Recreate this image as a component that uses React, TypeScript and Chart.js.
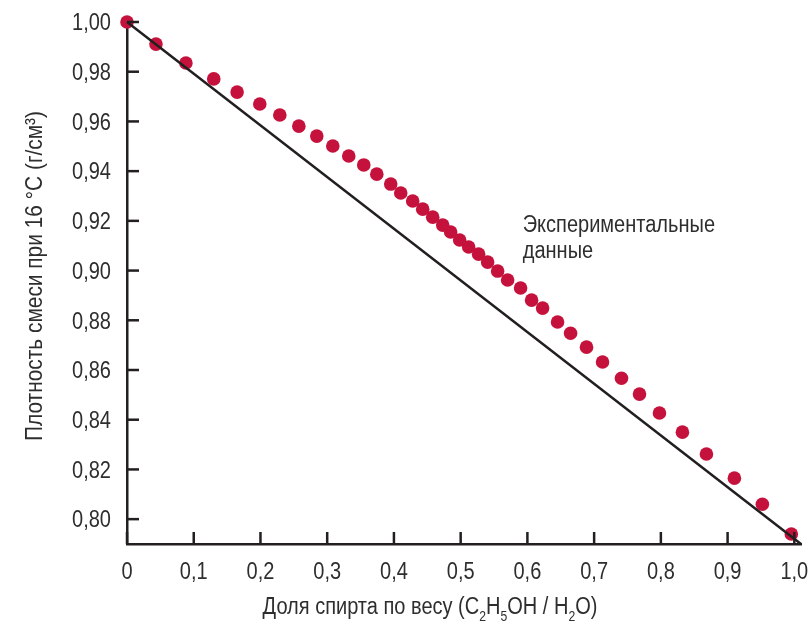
import { useEffect, useRef } from 'react';
import { Chart, registerables } from 'chart.js';

Chart.register(...registerables);

// Experimental data: weight fraction of alcohol vs density at 16 °C
const alcoholFraction = [
  0.0, 0.0434, 0.0883, 0.13, 0.165, 0.199, 0.229, 0.2575, 0.2844, 0.3084,
  0.3323, 0.3548, 0.3743, 0.3952, 0.4102, 0.4281, 0.4431, 0.4581, 0.4731, 0.485,
  0.4985, 0.512, 0.5269, 0.5404, 0.5554, 0.5704, 0.5898, 0.6063, 0.6228, 0.6452,
  0.6647, 0.6886, 0.7126, 0.741, 0.768, 0.7979, 0.8323, 0.8683, 0.9102, 0.9521, 0.9955,
];
const density = [
  1.0, 0.9911, 0.9835, 0.9771, 0.9718, 0.967, 0.9626, 0.9581, 0.9541, 0.9501,
  0.9461, 0.9425, 0.9388, 0.9348, 0.9312, 0.928, 0.9247, 0.9215, 0.9183, 0.9155,
  0.9123, 0.9095, 0.9066, 0.9034, 0.8998, 0.8962, 0.893, 0.8881, 0.8849, 0.8793,
  0.8748, 0.8692, 0.8632, 0.8567, 0.8503, 0.8427, 0.835, 0.8262, 0.8165, 0.806, 0.794,
];

// Ideal (linear) mixing line
const idealX = [0, 1.01];
const idealY = [1.0, 0.79];

const xTicks = [0, 0.1, 0.2, 0.3, 0.4, 0.5, 0.6, 0.7, 0.8, 0.9, 1.0];
const yTicks = [0.8, 0.82, 0.84, 0.86, 0.88, 0.9, 0.92, 0.94, 0.96, 0.98, 1.0];

const xTitle = 'Доля спирта по весу (C₂H₅OH / H₂O)';
const yTitle = 'Плотность смеси при 16 °С (г/см³)';
const annotationLines = ['Экспериментальные', 'данные'];
const annotationAt = { x: 0.593, y: 0.9157 };

const FONT = "'Liberation Sans', Arial, sans-serif";
const TEXT = '#2e2e2e';
const AXIS = '#231f20';
const DOT = '#c5123c';
const SX = 0.87; // horizontal condensation of the lettering

const SUBS: Record<string, string> = { '₀': '0', '₁': '1', '₂': '2', '₃': '3', '₄': '4', '₅': '5' };

function fmtX(v: number) {
  return v === 0 ? '0' : v.toFixed(1).replace('.', ',');
}
function fmtY(v: number) {
  return v.toFixed(2).replace('.', ',');
}

// draws text (with optional unicode subscripts) at baseline (0,0) of current transform
function drawRich(ctx: any, text: string, size: number, align: 'left' | 'center' | 'right') {
  const segs: { t: string; sub: boolean }[] = [];
  for (const ch of Array.from(text)) {
    const sub = SUBS[ch] !== undefined;
    const t = sub ? SUBS[ch] : ch;
    const last = segs[segs.length - 1];
    if (last && last.sub === sub) last.t += t;
    else segs.push({ t, sub });
  }
  const subSize = Math.round(size * 0.62);
  let total = 0;
  const widths = segs.map((s) => {
    ctx.font = `${s.sub ? subSize : size}px ${FONT}`;
    const w = ctx.measureText(s.t).width;
    total += w;
    return w;
  });
  let cx = align === 'center' ? -total / 2 : align === 'right' ? -total : 0;
  ctx.textAlign = 'left';
  ctx.textBaseline = 'alphabetic';
  segs.forEach((s, i) => {
    ctx.font = `${s.sub ? subSize : size}px ${FONT}`;
    ctx.fillText(s.t, cx, s.sub ? size * 0.3 : 0);
    cx += widths[i];
  });
}

function drawText(
  ctx: any,
  text: string,
  x: number,
  y: number,
  size: number,
  align: 'left' | 'center' | 'right',
  rotate = 0
) {
  ctx.save();
  ctx.translate(x, y);
  if (rotate) ctx.rotate(rotate);
  ctx.scale(SX, 1);
  drawRich(ctx, text, size, align);
  ctx.restore();
}

const inwardTicks = {
  id: 'inwardTicks',
  afterDatasetsDraw(chart: any) {
    const { ctx, chartArea } = chart;
    const x = chart.scales.x;
    const y = chart.scales.y;
    ctx.save();
    ctx.strokeStyle = AXIS;
    ctx.lineWidth = 2.5;
    y.ticks.forEach((t: any) => {
      const py = y.getPixelForValue(t.value);
      ctx.beginPath();
      ctx.moveTo(chartArea.left, py);
      ctx.lineTo(chartArea.left + 12, py);
      ctx.stroke();
    });
    x.ticks.forEach((t: any) => {
      const px = x.getPixelForValue(t.value);
      ctx.beginPath();
      ctx.moveTo(px, chartArea.bottom);
      ctx.lineTo(px, chartArea.bottom - 12);
      ctx.stroke();
    });
    ctx.restore();
  },
};

const lettering = {
  id: 'lettering',
  afterDraw(chart: any) {
    const { ctx, chartArea } = chart;
    const x = chart.scales.x;
    const y = chart.scales.y;
    ctx.save();
    ctx.fillStyle = TEXT;
    // y tick labels
    y.ticks.forEach((t: any) => {
      const py = y.getPixelForValue(t.value);
      drawText(ctx, fmtY(t.value), chartArea.left - 16, py + 8.3, 23, 'right');
    });
    // x tick labels
    x.ticks.forEach((t: any) => {
      const px = x.getPixelForValue(t.value);
      drawText(ctx, fmtX(t.value), px, chartArea.bottom + 35, 23, 'center');
    });
    // axis titles
    drawText(ctx, xTitle, 430, 614, 23, 'center');
    drawText(ctx, yTitle, 42, (chartArea.top + chartArea.bottom) / 2 - 7, 24, 'center', -Math.PI / 2);
    // annotation
    const ax = x.getPixelForValue(annotationAt.x);
    const ay = y.getPixelForValue(annotationAt.y);
    annotationLines.forEach((line, i) => {
      drawText(ctx, line, ax, ay + i * 26, 23, 'left');
    });
    ctx.restore();
  },
};

export default function App() {
  const ref = useRef<HTMLCanvasElement | null>(null);

  useEffect(() => {
    if (!ref.current) return;
    const chart = new Chart(ref.current, {
      type: 'scatter',
      data: {
        datasets: [
          {
            type: 'line',
            label: 'ideal',
            data: idealX.map((x, i) => ({ x, y: idealY[i] })),
            borderColor: AXIS,
            borderWidth: 2.5,
            pointRadius: 0,
            fill: false,
            order: 0,
            clip: false as any,
          },
          {
            label: 'exp',
            data: alcoholFraction.map((x, i) => ({ x, y: density[i] })),
            backgroundColor: DOT,
            borderWidth: 0,
            pointRadius: 6.8,
            order: 1,
            clip: false as any,
          },
        ],
      },
      options: {
        animation: false,
        responsive: false,
        layout: { padding: { top: 22, right: 10, left: 0, bottom: 0 } },
        plugins: { legend: { display: false }, tooltip: { enabled: false } },
        scales: {
          x: {
            type: 'linear',
            min: 0,
            max: 1.01,
            afterBuildTicks: (s: any) => {
              s.ticks = xTicks.map((v) => ({ value: v }));
            },
            afterFit: (s: any) => {
              s.height = 78;
            },
            grid: { display: false, drawTicks: false },
            border: { display: true, color: AXIS, width: 2.5 },
            ticks: { display: false },
            title: { display: false, text: xTitle },
          },
          y: {
            type: 'linear',
            min: 0.79,
            max: 1.0,
            afterBuildTicks: (s: any) => {
              s.ticks = yTicks.map((v) => ({ value: v }));
            },
            afterFit: (s: any) => {
              s.width = 127;
            },
            grid: { display: false, drawTicks: false },
            border: { display: true, color: AXIS, width: 2.5 },
            ticks: { display: false },
            title: { display: false, text: yTitle },
          },
        },
      },
      plugins: [inwardTicks, lettering],
    });
    return () => chart.destroy();
  }, []);

  return (
    <div style={{ position: 'absolute', left: 0, top: 0, width: 811, height: 622, background: '#fff' }}>
      <canvas ref={ref} width={811} height={622} />
    </div>
  );
}
